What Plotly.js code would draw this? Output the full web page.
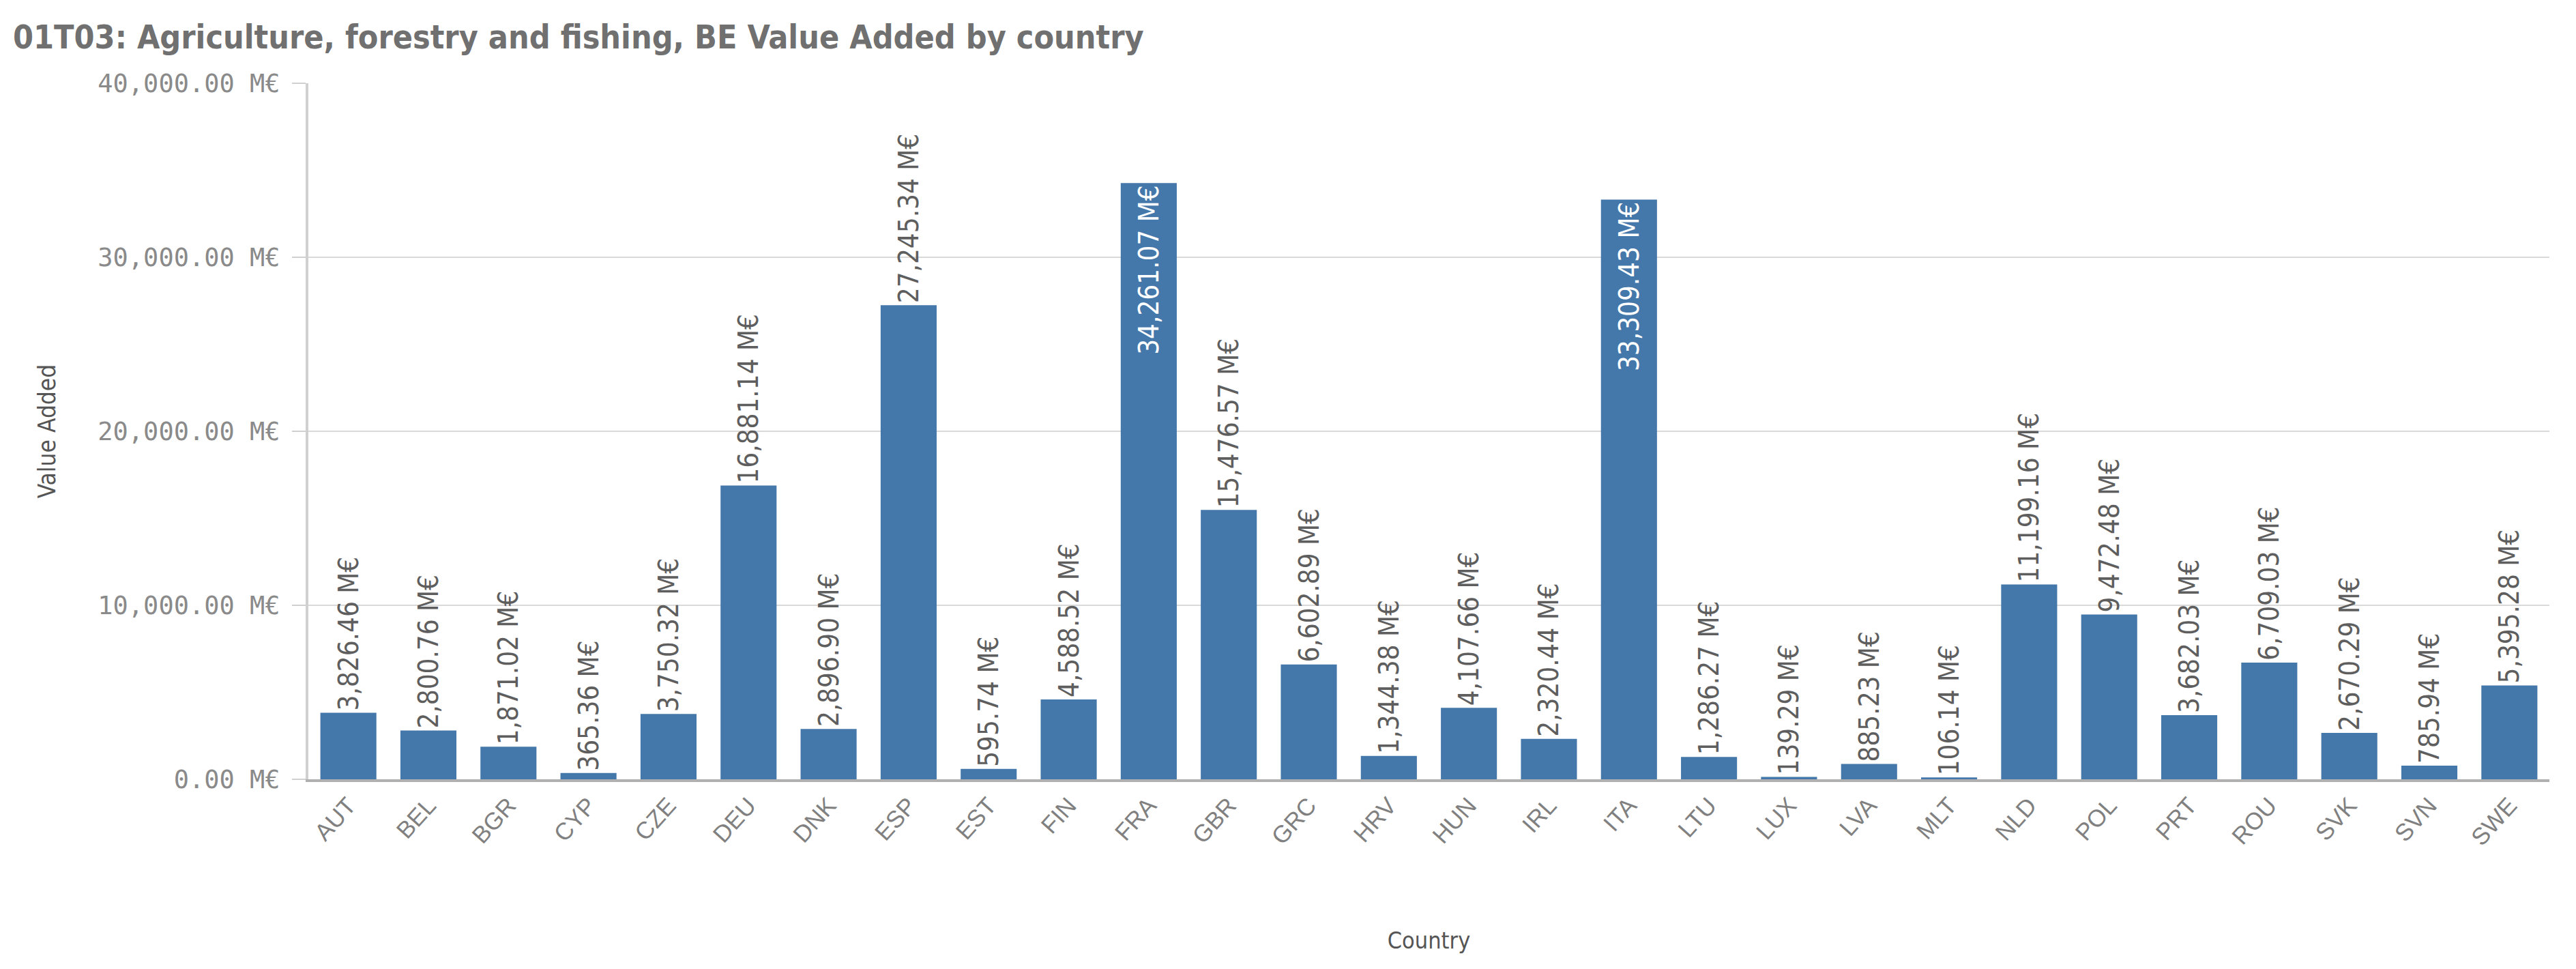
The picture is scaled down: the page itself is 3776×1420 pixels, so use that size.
<!DOCTYPE html>
<html>
<head>
<meta charset="utf-8">
<script src="https://cdn.plot.ly/plotly-3.0.1.min.js"></script>
<style>
  html, body { margin: 0; padding: 0; background: #ffffff; }
  #chart { width: 3776px; height: 1420px; }
</style>
</head>
<body>
<div id="chart"></div>
<script>
const countries = ["AUT","BEL","BGR","CYP","CZE","DEU","DNK","ESP","EST","FIN","FRA","GBR","GRC","HRV","HUN","IRL","ITA","LTU","LUX","LVA","MLT","NLD","POL","PRT","ROU","SVK","SVN","SWE"];
const valueAdded = [3826.46, 2800.76, 1871.02, 365.36, 3750.32, 16881.14, 2896.90, 27245.34, 595.74, 4588.52, 34261.07, 15476.57, 6602.89, 1344.38, 4107.66, 2320.44, 33309.43, 1286.27, 139.29, 885.23, 106.14, 11199.16, 9472.48, 3682.03, 6709.03, 2670.29, 785.94, 5395.28];
const insideLabels = ["FRA", "ITA"];

const labels = valueAdded.map(v => v.toLocaleString("en-US", {minimumFractionDigits: 2, maximumFractionDigits: 2}) + " M€");
const positions = countries.map(c => insideLabels.includes(c) ? "inside" : "outside");

const trace = {
  type: "bar",
  x: countries,
  y: valueAdded,
  marker: { color: "#4477aa" },
  text: labels,
  textposition: positions,
  textangle: -90,
  insidetextanchor: "end",
  constraintext: "none",
  cliponaxis: false,
  insidetextfont: { family: "DejaVu Sans Condensed", size: 40, color: "#ffffff" },
  outsidetextfont: { family: "DejaVu Sans Condensed", size: 40, color: "#5e5e5e" },
  hoverinfo: "x+y"
};

const layout = {
  width: 3776,
  height: 1420,
  paper_bgcolor: "#ffffff",
  plot_bgcolor: "#ffffff",
  margin: { l: 452, r: 39, t: 122, b: 278, autoexpand: false },
  bargap: 0.3,
  showlegend: false,
  title: {
    text: "<b>01T03: Agriculture, forestry and fishing, BE Value Added by country</b>",
    font: { family: "DejaVu Sans Condensed", size: 48, color: "#707070" },
    x: 19 / 3776, xanchor: "left", xref: "container",
    y: 1 - 54 / 1420, yanchor: "middle", yref: "container"
  },
  xaxis: {
    type: "category",
    tickangle: -48,
    tickfont: { family: "Liberation Sans", size: 35, color: "#808080" },
    showgrid: false,
    showline: true,
    linecolor: "#b0b0b0",
    linewidth: 4,
    ticks: "",
    automargin: false,
    title: {
      text: "Country",
      font: { family: "DejaVu Sans Condensed", size: 34, color: "#555555" },
      standoff: 122
    }
  },
  yaxis: {
    range: [0, 40000],
    tick0: 0,
    dtick: 10000,
    tickformat: ",.2f",
    ticksuffix: " M€",
    tickfont: { family: "DejaVu Sans Mono", size: 37, color: "#8a8a8a" },
    ticklabelstandoff: 10,
    showgrid: true,
    gridcolor: "#d9d9d9",
    gridwidth: 2,
    showline: true,
    linecolor: "#d0d0d0",
    linewidth: 4,
    ticks: "outside",
    ticklen: 20,
    tickcolor: "#d0d0d0",
    tickwidth: 2,
    zeroline: false,
    automargin: false,
    title: {
      text: "Value Added",
      font: { family: "DejaVu Sans Condensed", size: 35, color: "#555555" },
      standoff: 52
    }
  }
};

Plotly.newPlot("chart", [trace], layout, { staticPlot: true, displayModeBar: false });
</script>
</body>
</html>
